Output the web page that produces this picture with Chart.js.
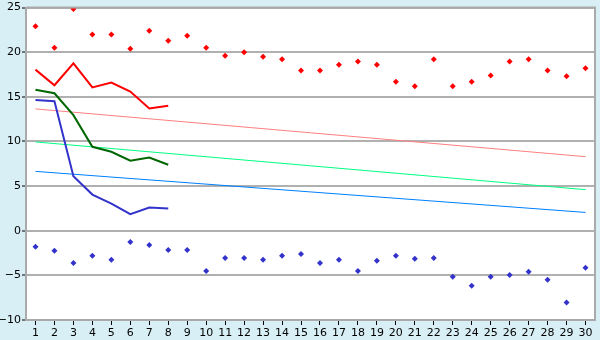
<!DOCTYPE html>
<html lang="en">
  <head>
    <meta charset="UTF-8" />
    <title>Chart</title>
    <script src="https://cdn.jsdelivr.net/npm/chart.js"></script>
    <style>
      body {
        margin: 0;
        background: #d9eff6;
      }
    </style>
  </head>
  <body>
    <canvas id="chart" width="600" height="340"></canvas>

    <script>
      // categories 1..30
      const days = [
        "1", "2", "3", "4", "5", "6", "7", "8", "9", "10",
        "11", "12", "13", "14", "15", "16", "17", "18", "19", "20",
        "21", "22", "23", "24", "25", "26", "27", "28", "29", "30",
      ];

      // red markers (upper)
      const redPoints = [
        22.9, 20.5, 24.85, 22.0, 22.0, 20.4, 22.4, 21.3, 21.85, 20.5,
        19.6, 20.0, 19.5, 19.2, 17.95, 17.95, 18.6, 18.95, 18.6, 16.7,
        16.2, 19.2, 16.2, 16.7, 17.4, 18.95, 19.2, 17.95, 17.3, 18.2,
      ];
      // blue markers (lower)
      const bluePoints = [
        -1.8, -2.25, -3.6, -2.8, -3.25, -1.25, -1.6, -2.15, -2.15, -4.5,
        -3.05, -3.05, -3.25, -2.8, -2.6, -3.6, -3.25, -4.5, -3.35, -2.8,
        -3.15, -3.05, -5.15, -6.15, -5.15, -4.95, -4.6, -5.5, -8.05, -4.15,
      ];

      // short lines, first 8 days
      const redLine = [18.05, 16.3, 18.75, 16.05, 16.6, 15.6, 13.7, 14.0];
      const greenLine = [15.8, 15.4, 12.95, 9.4, 8.85, 7.85, 8.2, 7.4];
      const blueLine = [14.65, 14.5, 6.1, 4.05, 3.05, 1.85, 2.6, 2.5];

      // trend lines: value at day 1 and day 30
      const pinkTrend = [13.65, 8.3];
      const lightGreenTrend = [9.95, 4.6];
      const lightBlueTrend = [6.65, 2.05];

      const yTicks = { min: -10, max: 25, step: 5 };

      function endpoints(pair) {
        const arr = days.map(() => null);
        arr[0] = pair[0];
        arr[days.length - 1] = pair[1];
        return arr;
      }

      const bgPlugin = {
        id: "bg",
        beforeDraw(chart) {
          const { ctx, chartArea: a } = chart;
          ctx.save();
          ctx.fillStyle = "#d9eff6";
          ctx.fillRect(0, 0, chart.width, chart.height);
          ctx.fillStyle = "#ffffff";
          ctx.fillRect(a.left, a.top, a.right - a.left, a.bottom - a.top);
          ctx.restore();
        },
        afterDatasetsDraw(chart) {
          const { ctx, chartArea: a } = chart;
          ctx.save();
          ctx.strokeStyle = "#aaaaaa";
          ctx.lineWidth = 2;
          ctx.beginPath();
          ctx.moveTo(a.left, a.top);
          ctx.lineTo(a.right, a.top);
          ctx.lineTo(a.right, a.bottom);
          ctx.stroke();
          ctx.restore();
        },
      };

      const lineStyle = {
        type: "line",
        borderWidth: 2,
        pointRadius: 0,
        tension: 0,
        fill: false,
      };
      const trendStyle = {
        type: "line",
        borderWidth: 1,
        pointRadius: 0,
        tension: 0,
        fill: false,
        spanGaps: true,
      };
      const markerStyle = {
        type: "line",
        showLine: false,
        pointStyle: "rectRot",
        pointRadius: 3,
        borderWidth: 0,
      };

      new Chart(document.getElementById("chart"), {
        data: {
          labels: days,
          datasets: [
            { ...lineStyle, data: redLine, borderColor: "#ff0000" },
            { ...lineStyle, data: greenLine, borderColor: "#006600" },
            { ...lineStyle, data: blueLine, borderColor: "#3333cc" },
            { ...markerStyle, data: redPoints, backgroundColor: "#ff0000", borderColor: "#ff0000" },
            { ...markerStyle, data: bluePoints, backgroundColor: "#3333cc", borderColor: "#3333cc" },
            { ...trendStyle, data: endpoints(pinkTrend), borderColor: "#ff8080" },
            { ...trendStyle, data: endpoints(lightGreenTrend), borderColor: "#00ff80" },
            { ...trendStyle, data: endpoints(lightBlueTrend), borderColor: "#0080ff" },
          ],
        },
        options: {
          responsive: false,
          animation: false,
          layout: { padding: { top: 5, right: 5, left: 0, bottom: 0 } },
          plugins: {
            legend: { display: false },
            tooltip: { enabled: false },
          },
          font: { family: "DejaVu Sans" },
          scales: {
            x: {
              offset: true,
              grid: {
                drawOnChartArea: false,
                tickLength: 5,
                color: "#000000",
              },
              border: { display: true, color: "#aaaaaa", width: 2 },
              ticks: {
                color: "#000000",
                font: { family: "DejaVu Sans", size: 11 },
                padding: 2,
                maxRotation: 0,
                autoSkip: false,
              },
              afterFit(scale) {
                scale.height = 20;
              },
            },
            y: {
              min: yTicks.min,
              max: yTicks.max,
              grid: {
                color: "#b0b0b0",
                lineWidth: 2,
                tickLength: 4,
                tickColor: "#000000",
                tickWidth: 1,
              },
              border: { display: true, color: "#aaaaaa", width: 2 },
              ticks: {
                stepSize: yTicks.step,
                color: "#000000",
                font: { family: "DejaVu Sans", size: 11 },
                padding: 1,
                callback: (v) => String(v).replace("-", "\u2212"),
              },
              afterFit(scale) {
                scale.width = 26;
              },
            },
          },
        },
        plugins: [bgPlugin],
      });
    </script>
  </body>
</html>
